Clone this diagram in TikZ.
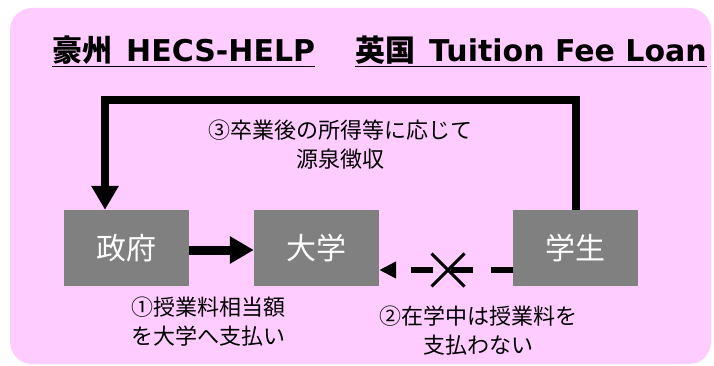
\documentclass[tikz,border=0pt]{standalone}
\usepackage{fontspec}
\setmainfont{Noto Sans CJK JP}
\newfontfamily\latinfont{DejaVu Sans}
\usetikzlibrary{arrows.meta,shapes.misc}
\definecolor{bgpink}{HTML}{FFCCFF}
\definecolor{boxgray}{HTML}{808080}
\tikzset{
    actor/.style={rectangle, fill=boxgray, text=white, minimum width=125pt, minimum height=76pt, inner sep=0pt, font=\fontsize{30}{30}\selectfont}
}
\tikzset{
    note/.style={align=center, inner sep=0pt, font=\fontsize{22}{29}\selectfont},
    heading/.style={inner sep=0pt, anchor=base west, font=\fontsize{30}{30}\selectfont\bfseries}
}
\tikzset{
    flow/.style={line width=8pt, -{Triangle[length=24pt,width=26pt]}},
    nopay/.style={line width=6pt, dash pattern=on 22pt off 18pt, -{Triangle[length=17pt,width=16pt]}}
}

\begin{document}
\begin{tikzpicture}[x=1pt, y=-1pt]
    \useasboundingbox (0,0) rectangle (714,366);
    \fill[bgpink, rounded corners=22pt] (10,8) rectangle (711,364);

    \node (aus) at (52,62) [heading] {\underline{豪州\hspace{14pt}{\latinfont HECS-HELP}}};
    \node (uk) at (355,62) [heading] {\underline{英国\hspace{14pt}{\latinfont Tuition Fee Loan}}};

    \node (gov) at (126.5,248) [actor] {政府};
    \node (uni) at (316.5,248) [actor] {大学};
    \node (stu) at (575.5,248) [actor] {学生};

    \node (repay) at (340,145) [note] {③卒業後の所得等に応じて\\源泉徴収};
    \node (pay) at (208,322) [note] {①授業料相当額\\を大学へ支払い};
    \node (nofee) at (478,331) [note] {②在学中は授業料を\\支払わない};
    \node (ng) at (448,270) [cross out, draw, line width=3pt, minimum size=30pt, inner sep=0pt] {};

    \draw[flow] (stu.north) |- ([xshift=-21.5pt, yshift=110pt]gov.north) -- ([xshift=-21.5pt]gov.north);
    \draw[flow, line width=9pt] ([yshift=-2pt]gov.east) -- ([yshift=-2pt]uni.west);
    \draw[nopay] ([yshift=-22pt]stu.west) -- ([yshift=-22pt]uni.east);
\end{tikzpicture}
\end{document}
